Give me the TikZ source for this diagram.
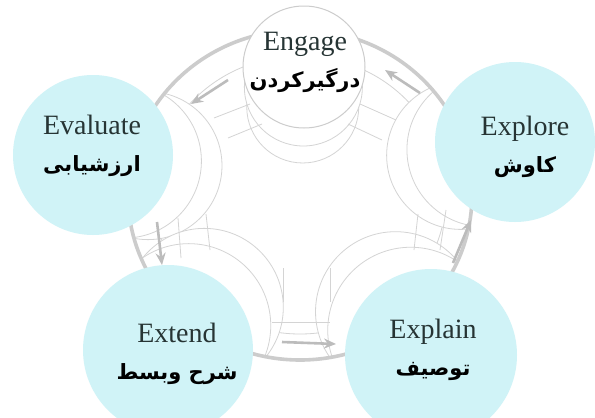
\documentclass[tikz,border=0pt]{standalone}
\usepackage{fontspec}
\setmainfont{Liberation Serif}
\newfontfamily\farsifont[Script=Arabic]{DejaVu Sans}
\TeXXeTstate=1
\usetikzlibrary{arrows.meta,calc}

\definecolor{phasecyan}{RGB}{208,243,247}
\definecolor{ringgray}{RGB}{204,204,204}
\definecolor{arrowgray}{RGB}{188,188,188}
\definecolor{linegray}{RGB}{212,212,212}
\definecolor{textdark}{RGB}{38,52,52}

\tikzset{
	phase/.style={circle, fill=phasecyan, inner sep=0pt},
	crescent/.style={draw=linegray, fill=white, line width=0.8},
	phasetext/.style={align=center, text=textdark, font=\fontsize{28}{37}\selectfont},
	flowarrow/.style={draw=arrowgray, line width=2.6, -{Stealth[length=12,width=10]}},
	rib/.style={draw=linegray, line width=0.8},
}
\newcommand{\fa}[1]{{\color{black}\farsifont\bfseries\fontsize{21}{26}\selectfont\beginR #1\endR}}

\begin{document}
\begin{tikzpicture}[x=1pt, y=-1pt, >=Stealth]
		\useasboundingbox[fill=white] (0,0) rectangle (595,418);
		\coordinate (hub) at (300,195);
		% crescents behind the phases, kept inside the ring
		\begin{scope}
			\clip (hub) ellipse [x radius=172, y radius=165];
			\draw[linegray, line width=0.8] (hub) ellipse [x radius=146, y radius=139];
			\draw[crescent] ($(304,67)!40pt!(hub)$) circle (56);
			\draw[crescent] ($(304,67)!20pt!(hub)$) circle (59);
			\foreach \cx/\cy/\r in {93/155/80, 515/142/80, 168/350/85, 431/355/86} {
				\draw[crescent] ($(\cx,\cy)!56pt!(hub)$) circle ({\r-6});
				\draw[crescent] ($(\cx,\cy)!32pt!(hub)$) circle ({\r-3});
			}
			% ribs across the band
			\draw[rib] (178,218) -- (181,258);
			\draw[rib] (206,214) -- (210,250);
			\draw[rib] (283,268) -- (283,302);
			\draw[rib] (330,268) -- (330,302);
			\draw[rib] (272,322) -- (330,322);
			\draw[rib] (446,210) -- (440,250);
			\draw[rib] (418,214) -- (414,250);
			\draw[rib] (228,138) -- (262,124);
			\draw[rib] (214,118) -- (250,104);
			\draw[rib] (348,124) -- (382,140);
			\draw[rib] (360,104) -- (396,120);
		\end{scope}
		% ring band
		\draw[ringgray, line width=3.6] (hub) ellipse [x radius=172, y radius=165];
		% flow arrows
		\coordinate (a1) at (420,93);  \coordinate (a2) at (385,70);
		\coordinate (b1) at (228,80);  \coordinate (b2) at (191,104);
		\coordinate (c1) at (157,222); \coordinate (c2) at (162,265);
		\coordinate (d1) at (282,342); \coordinate (d2) at (336,344);
		\coordinate (e1) at (453,263); \coordinate (e2) at (471,220);
		\draw[flowarrow] (a1) -- (a2);
		\draw[flowarrow] (b1) -- (b2);
		\draw[flowarrow] (c1) -- (c2);
		\draw[flowarrow] (d1) -- (d2);
		\draw[flowarrow] (e1) -- (e2);
		% phases
		\node[phase, fill=white, draw=ringgray, line width=1, minimum size=122] (engage) at (304,67) {};
		\node[phase, minimum size=160] (evaluate) at (93,155) {};
		\node[phase, minimum size=160] (explore) at (515,142) {};
		\node[phase, minimum size=170] (extend) at (168,350) {};
		\node[phase, minimum size=172] (explain) at (431,355) {};
		\node[phasetext] (engage-t) at (305,62) {Engage\\\fa{درگیرکردن}};
		\node[phasetext] (evaluate-t) at (92,146) {Evaluate\\\fa{ارزشیابی}};
		\node[phasetext] (explore-t) at (525,147) {Explore\\\fa{کاوش}};
		\node[phasetext] (extend-t) at (177,354) {Extend\\\fa{شرح وبسط}};
		\node[phasetext] (explain-t) at (433,350) {Explain\\\fa{توصیف}};
	\end{tikzpicture}
\end{document}
